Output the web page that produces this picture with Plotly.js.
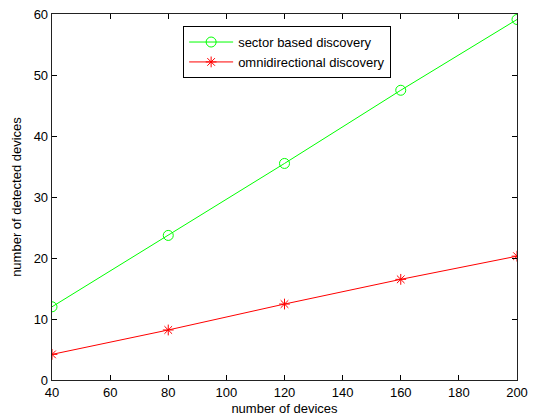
<!DOCTYPE html>
<html><head><meta charset="utf-8">
<script src="https://cdn.plot.ly/plotly-3.0.1.min.js"></script>
<style>html,body{margin:0;padding:0;background:#fff}#chart{width:536px;height:420px}</style>
</head><body><div id="chart"></div>
<script>
const devices = [40, 80, 120, 160, 200];
const sectorBased = [12.0, 23.7, 35.5, 47.5, 59.1];
const omnidirectional = [4.2, 8.2, 12.45, 16.5, 20.3];
const xTicks = [40, 60, 80, 100, 120, 140, 160, 180, 200];
const yTicks = [0, 10, 20, 30, 40, 50, 60];

const traces = [
  {x: devices, y: sectorBased, name: 'sector based discovery', mode: 'lines+markers',
   line: {color: '#00ff00', width: 1}, marker: {symbol: 'circle-open', size: 10, color: '#00ff00', line: {width: 1}}},
  {x: devices, y: omnidirectional, name: 'omnidirectional discovery', mode: 'lines+markers',
   line: {color: '#ff0000', width: 1}, marker: {symbol: 'asterisk-open', size: 9, color: '#ff0000', line: {width: 1, color: '#ff0000'}}}
];
const fam = 'Liberation Sans, Arial';
const axisCommon = {showgrid: false, zeroline: false, showline: true, linecolor: '#222', linewidth: 1.3,
  mirror: 'ticks', ticks: 'inside', ticklen: 5, tickcolor: '#000', tickfont: {family: fam, size: 13, color: '#000'}};
const layout = {
  width: 536, height: 420,
  margin: {l: 52, r: 19, t: 14, b: 40},
  paper_bgcolor: '#fff', plot_bgcolor: '#fff',
  showlegend: true,
  legend: {x: 0.282, y: 0.967, xanchor: 'left', yanchor: 'top', bordercolor: '#000', borderwidth: 1,
    bgcolor: '#fff', font: {family: fam, size: 13, color: '#000'}, tracegroupgap: 0, itemwidth: 44},
  xaxis: Object.assign({}, axisCommon, {range: [40, 200], tickvals: xTicks,
    title: {text: 'number of devices', font: {family: fam, size: 13, color: '#000'}, standoff: 5}}),
  yaxis: Object.assign({}, axisCommon, {range: [0, 60], tickvals: yTicks,
    title: {text: 'number of detected devices', font: {family: fam, size: 13, color: '#000'}, standoff: 9}})
};
Plotly.newPlot('chart', traces, layout, {displayModeBar: false, staticPlot: true});
</script></body></html>
